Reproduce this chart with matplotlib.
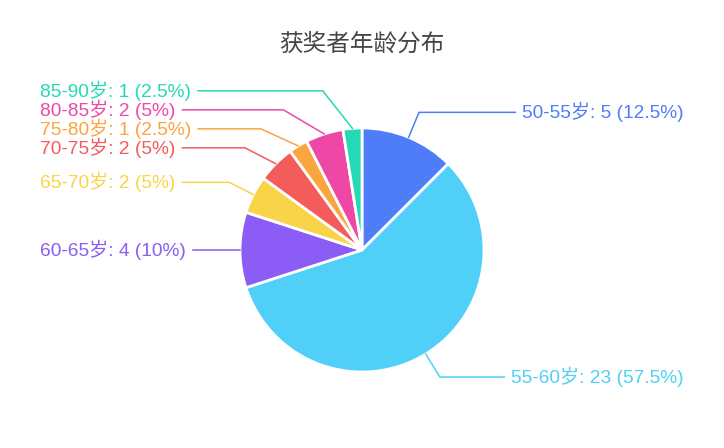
import matplotlib
matplotlib.use('Agg')
import matplotlib.pyplot as plt
import numpy as np

categories = ['50-55岁', '55-60岁', '60-65岁', '65-70岁', '70-75岁', '75-80岁', '80-85岁', '85-90岁']
counts = [5, 23, 4, 2, 2, 1, 2, 1]
colors = ['#4F7DF9', '#50D0F8', '#8B5CF6', '#F9D448', '#F45B5B', '#FAA53E', '#EE48A6', '#25D9B6']
title = '获奖者年龄分布'

W, H = 724, 448
CX, CY, R = 362, 250, 122      # pie centre / radius in image pixels (y down)
LEN1 = 27                       # first leader segment
GAP = 19                        # min vertical spacing of labels
RB = 165                        # vertical semi-axis for shifted elbows
LEFT_X, RIGHT_X = 40, 684

plt.rcParams['font.family'] = ['Noto Sans CJK SC', 'DejaVu Sans']
LABEL_FONT = ['Liberation Sans', 'Noto Sans CJK SC', 'DejaVu Sans']

fig = plt.figure(figsize=(W / 100, H / 100), dpi=100)
ax = fig.add_axes([0, 0, 1, 1])
wedges, _ = ax.pie(counts, colors=colors, startangle=90, counterclock=False,
                   center=(CX, H - CY), radius=R,
                   wedgeprops=dict(edgecolor='white', linewidth=2))
ax.set_xlim(0, W)
ax.set_ylim(0, H)
ax.set_aspect('auto')
ax.axis('off')

fig.text(0.5, 1 - 44 / H, title, ha='center', va='center', fontsize=17, color='#464646')

total = sum(counts)
items = []
for w, c, n, col in zip(wedges, categories, counts, colors):
    mid = np.deg2rad((w.theta1 + w.theta2) / 2)
    ux, uy = np.cos(mid), -np.sin(mid)
    ex, ey = CX + R * ux, CY + R * uy
    ox, oy = CX + (R + LEN1) * ux, CY + (R + LEN1) * uy
    side = -1 if ux < -1e-9 else 1
    pct = n / total * 100
    items.append(dict(text=f'{c}: {n} ({pct:g}%)', col=col, ex=ex, ey=ey,
                      ox=ox, oy=oy, side=side, ly=oy))


def resolve(group):
    group.sort(key=lambda d: d['oy'])
    clusters = [[g] for g in group]
    changed = True
    while changed:
        changed = False
        new = []
        for cl in clusters:
            if new:
                prev = new[-1]
                pm = np.mean([d['oy'] for d in prev])
                ptop = pm - GAP * (len(prev) - 1) / 2
                pbot = ptop + GAP * (len(prev) - 1)
                cm = np.mean([d['oy'] for d in cl])
                ctop = cm - GAP * (len(cl) - 1) / 2
                if ctop - pbot < GAP:
                    new[-1] = prev + cl
                    changed = True
                    continue
            new.append(cl)
        clusters = new
    for cl in clusters:
        m = np.mean([d['oy'] for d in cl])
        top = m - GAP * (len(cl) - 1) / 2
        for i, d in enumerate(cl):
            d['ly'] = top + GAP * i if len(cl) > 1 else d['oy']


for s in (-1, 1):
    resolve([d for d in items if d['side'] == s])

RA = R + LEN1
for d in items:
    if abs(d['ly'] - d['oy']) > 0.5:
        dy = d['ly'] - CY
        dx = RA * np.sqrt(max(0.0, 1 - dy * dy / RB / RB))
        d['bx'] = CX + d['side'] * dx
    else:
        d['bx'] = d['ox']
    if d['side'] < 0:
        d['t'] = ax.text(LEFT_X, H - d['ly'], d['text'], ha='left', va='center',
                         fontsize=13.8, color=d['col'], family=LABEL_FONT)
    else:
        d['t'] = ax.text(RIGHT_X, H - d['ly'], d['text'], ha='right', va='center',
                         fontsize=13.8, color=d['col'], family=LABEL_FONT)

fig.canvas.draw()
rend = fig.canvas.get_renderer()
inv = ax.transData.inverted()
for d in items:
    bb = d['t'].get_window_extent(rend)
    (x0, _), (x1, _) = inv.transform([(bb.x0, bb.y0), (bb.x1, bb.y1)])
    endx = x1 + 7 if d['side'] < 0 else x0 - 7
    xs = [d['ex'], d['bx'], endx]
    ys = [H - d['ey'], H - d['ly'], H - d['ly']]
    ax.plot(xs, ys, color=d['col'], lw=1.1, solid_joinstyle='miter')

fig.savefig('out.png', dpi=100)
